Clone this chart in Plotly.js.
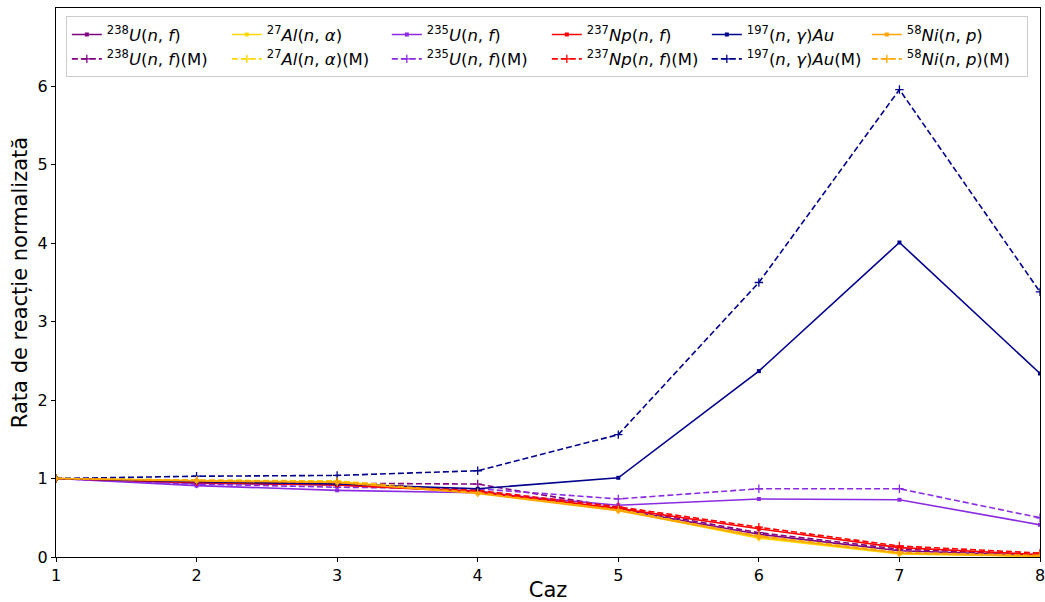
<!DOCTYPE html>
<html><head><meta charset="utf-8">
<script src="https://cdn.plot.ly/plotly-3.0.1.min.js"></script>
<style>body{margin:0;background:#fff}#c{width:1045px;height:602px}</style>
</head><body><div id="c"></div>
<script>
const cases = [1,2,3,4,5,6,7,8];
const u238   = [1,0.94,0.92,0.84,0.61,0.29,0.08,0.02];
const u238M  = [1,0.96,0.94,0.93,0.63,0.31,0.10,0.03];
const al27   = [1,0.97,0.96,0.82,0.60,0.24,0.04,0.01];
const al27M  = [1,0.98,0.97,0.83,0.61,0.25,0.05,0.01];
const u235   = [1,0.91,0.85,0.82,0.66,0.74,0.73,0.41];
const u235M  = [1,0.93,0.89,0.87,0.74,0.87,0.87,0.50];
const np237  = [1,0.95,0.92,0.83,0.62,0.36,0.12,0.03];
const np237M = [1,0.96,0.94,0.85,0.64,0.38,0.14,0.05];
const au197  = [1,0.96,0.93,0.87,1.01,2.37,4.01,2.34];
const au197M = [1,1.03,1.04,1.10,1.56,3.50,5.96,3.38];
const ni58   = [1,0.97,0.95,0.81,0.59,0.26,0.05,0.01];
const ni58M  = [1,0.98,0.96,0.82,0.60,0.27,0.06,0.02];

const names = [
  '<sup>238</sup><i>U</i>(<i>n</i>, <i>f</i>)',
  '<sup>27</sup><i>Al</i>(<i>n</i>, <i>α</i>)',
  '<sup>235</sup><i>U</i>(<i>n</i>, <i>f</i>)',
  '<sup>237</sup><i>Np</i>(<i>n</i>, <i>f</i>)',
  '<sup>197</sup>(<i>n</i>, <i>γ</i>)<i>Au</i>',
  '<sup>58</sup><i>Ni</i>(<i>n</i>, <i>p</i>)'
];
const colors = ['#800080','#FFD700','#8A2BE2','#FF0000','#00008B','#FFA500'];
const solid = [u238, al27, u235, np237, au197, ni58];
const dashed = [u238M, al27M, u235M, np237M, au197M, ni58M];

const traces = [];
for (let i = 0; i < 6; i++) {
  traces.push({
    x: cases, y: solid[i], type: 'scatter', mode: 'lines+markers',
    name: names[i], legendrank: i + 1,
    line: {color: colors[i], width: 1.6},
    marker: {symbol: 'square', size: 4, color: colors[i]}
  });
  traces.push({
    x: cases, y: dashed[i], type: 'scatter', mode: 'lines+markers',
    name: names[i] + '(M)', legendrank: i + 7,
    line: {color: colors[i], width: 1.6, dash: '6px,3px'},
    marker: {symbol: 'cross-thin-open', size: 6, color: colors[i], line: {color: colors[i], width: 1.3}}
  });
}

const layout = {
  width: 1045, height: 602,
  margin: {l: 56, r: 5, t: 8, b: 45},
  paper_bgcolor: '#fff', plot_bgcolor: '#fff',
  font: {family: 'DejaVu Sans', color: '#000'},
  showlegend: true,
  legend: {
    orientation: 'h', x: 0.01, y: 0.985, xanchor: 'left', yanchor: 'top',
    entrywidth: 115, entrywidthmode: 'pixels',
    bgcolor: 'rgba(255,255,255,0.8)', bordercolor: '#cccccc', borderwidth: 1,
    font: {size: 16.5, family: 'DejaVu Sans'}, tracegroupgap: 0
  },
  xaxis: {
    range: [1, 8], tickvals: cases, ticktext: cases.map(String),
    showgrid: false, zeroline: false, showline: true, mirror: true,
    linecolor: '#000', linewidth: 1, ticks: 'outside', ticklen: 4, tickcolor: '#000',
    tickfont: {size: 16}, ticklabeloverflow: 'allow',
    title: {text: 'Caz', font: {size: 21}, standoff: 4}
  },
  yaxis: {
    range: [0, 7], tickvals: [0,1,2,3,4,5,6],
    showgrid: false, zeroline: false, showline: true, mirror: true,
    linecolor: '#000', linewidth: 1, ticks: 'outside', ticklen: 4, tickcolor: '#000',
    tickfont: {size: 16},
    title: {text: 'Rata de reacție normalizată', font: {size: 21}, standoff: 4}
  }
};
Plotly.newPlot('c', traces, layout, {displayModeBar: false});
</script>
</body></html>
